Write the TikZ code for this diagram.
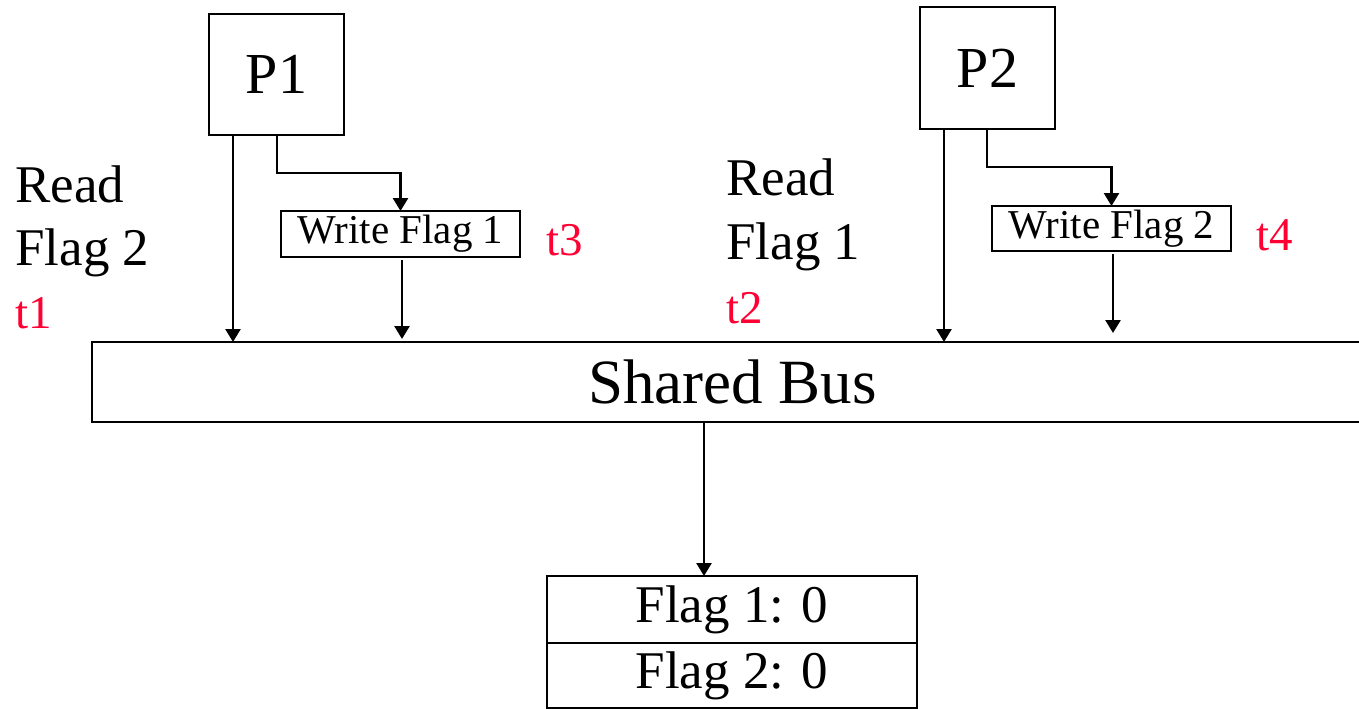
\documentclass[tikz,border=0pt]{standalone}
\usepackage{fontspec}
\setmainfont{Liberation Serif}
\usetikzlibrary{arrows.meta}
\definecolor{tred}{RGB}{255,0,51}
\begin{document}
\begin{tikzpicture}[x=1pt,y=-1pt,
  line width=2.6pt,
  box/.style={draw,line width=2.6pt,inner sep=0pt,outer sep=0pt,anchor=north west},
  arr/.style={-{Triangle[width=15pt,length=13pt]}},
  lbl/.style={anchor=base west,inner sep=0pt,font=\fontsize{53}{60}\selectfont},
  tlbl/.style={anchor=base west,inner sep=0pt,text=tred,font=\fontsize{47}{54}\selectfont}
]
\useasboundingbox (0,0) rectangle (1359,709);

% processors
\node[box,minimum width=135pt,minimum height=121pt,font=\fontsize{58}{64}\selectfont] (p1) at (209,14) {P1};
\node[box,minimum width=135pt,minimum height=122pt,font=\fontsize{58}{64}\selectfont] (p2) at (920,7) {P2};

% write requests
\node[box,minimum width=239pt,minimum height=46pt,font=\fontsize{41}{46}\selectfont] (w1) at (281,211) {Write Flag 1};
\node[box,minimum width=239pt,minimum height=45pt,font=\fontsize{41}{46}\selectfont] (w2) at (992,206) {Write Flag 2};

% bus
\node[box,minimum width=1281pt,minimum height=80pt,font=\fontsize{63}{70}\selectfont] (bus) at (92,342) {Shared Bus};

% memory flags
\node[box,minimum width=370pt,minimum height=67pt,font=\fontsize{53}{60}\selectfont] (f1) at (547,576) {Flag 1: 0};
\node[box,minimum width=370pt,minimum height=65pt,font=\fontsize{53}{60}\selectfont] (f2) at (547,643) {Flag 2: 0};

% side labels
\node[lbl] (r1a) at (14,202) {Read};
\node[lbl] (r1b) at (14,265) {Flag 2};
\node[tlbl] (t1) at (14,328) {t1};
\node[lbl] (r2a) at (725,195) {Read};
\node[lbl] (r2b) at (725,259) {Flag 1};
\node[tlbl] (t2) at (725,323) {t2};
\node[tlbl] (t3) at (545,255) {t3};
\node[tlbl] (t4) at (1255,250) {t4};

% connectors of P1
\draw[arr] (233,0 |- p1.south) -- (233,0 |- bus.north);
\draw[arr] (277,0 |- p1.south) -- (277,173) -| (w1.north);
\coordinate (w1out) at (402,260);
\coordinate (w1in) at (402,339);
\draw[arr] (w1out) -- (w1in);

% connectors of P2
\draw[arr] (944,0 |- p2.south) -- (944,0 |- bus.north);
\draw[arr] (987,0 |- p2.south) -- (987,167) -| (w2.north);
\coordinate (w2out) at (1113,254);
\coordinate (w2in) at (1113,333);
\draw[arr] (w2out) -- (w2in);

% bus to memory
\draw[arr] (704,0 |- bus.south) -- (704,0 |- f1.north);
\end{tikzpicture}
\end{document}
